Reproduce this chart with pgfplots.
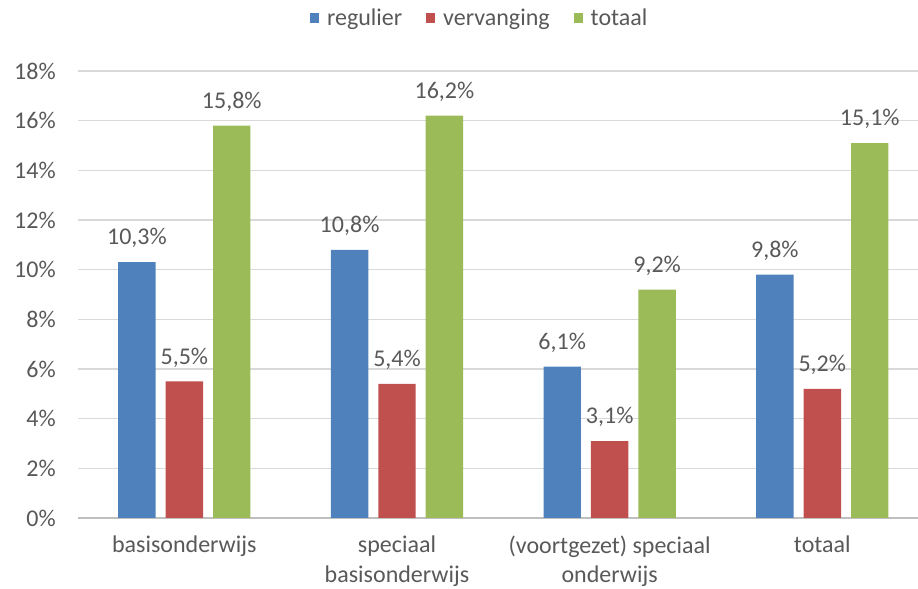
\documentclass[border=0pt]{standalone}
\usepackage{pgfplots}
\pgfplotsset{compat=1.18}
\usepackage{fontspec}
\setmainfont{Carlito}
\definecolor{cblue}{HTML}{4F81BD}
\definecolor{cred}{HTML}{C0504D}
\definecolor{cgreen}{HTML}{9BBB59}
\definecolor{ctext}{HTML}{595959}
\definecolor{cgrid}{HTML}{D9D9D9}
\definecolor{caxis}{HTML}{BFBFBF}
\begin{document}
\begin{tikzpicture}
\begin{axis}[
  at={(58.5pt,53.25pt)}, anchor=south west,
  scale only axis, width=630pt, height=335.25pt,
  ybar, bar width=0.176,
  xmin=-0.5, xmax=3.45, ymin=0, ymax=18,
  ytick={0,2,...,18},
  xtick={0,1,2,3},
  xticklabels={basisonderwijs, speciaal\\basisonderwijs, (voortgezet) speciaal\\onderwijs, totaal},
  /pgf/number format/assume math mode=true,
  yticklabel={\pgfmathprintnumber{\tick}\%},
  font=\fontsize{18}{22}\selectfont,
  every tick label/.append style={text=ctext},
  xticklabel style={align=center, anchor=north, yshift=-10pt},
  yticklabel style={anchor=east, inner sep=0pt, xshift=-16.5pt},
  major tick length=0pt,
  ymajorgrids, grid style={cgrid, line width=1.1pt},
  axis y line*=left, y axis line style={draw=none},
  axis x line*=bottom, x axis line style={caxis, line width=1.3pt},
  axis line style={-},
  separate axis lines,
  clip=false,
  nodes near coords={\pgfmathprintnumber[fixed,precision=1,fixed zerofill,use comma]{\pgfplotspointmeta}\%},
  every node near coord/.append style={text=ctext, anchor=base, yshift=13pt, font=\fontsize{18}{22}\selectfont},
  legend columns=3,
  legend style={at={(0.4786,1.1186)}, anchor=center, draw=none, fill=none,
    font=\fontsize{18}{22}\selectfont, text=ctext,
    /tikz/every odd column/.append style={column sep=4pt},
    /tikz/every even column/.append style={column sep=16pt}},
  legend image code/.code={\fill[#1] (0pt,-3.6pt) rectangle (6.75pt,3.6pt);},
]
\addplot[fill=cblue, draw=none, bar shift=-0.223] coordinates {(0,10.3) (1,10.8) (2,6.1) (3,9.8)};
\addplot[fill=cred, draw=none, bar shift=0] coordinates {(0,5.5) (1,5.4) (2,3.1) (3,5.2)};
\addplot[fill=cgreen, draw=none, bar shift=0.223] coordinates {(0,15.8) (1,16.2) (2,9.2) (3,15.1)};
\legend{regulier, vervanging, totaal}
\end{axis}
\pgfresetboundingbox
\path (0,0) rectangle (688.5pt,441.75pt);
\end{tikzpicture}
\end{document}
